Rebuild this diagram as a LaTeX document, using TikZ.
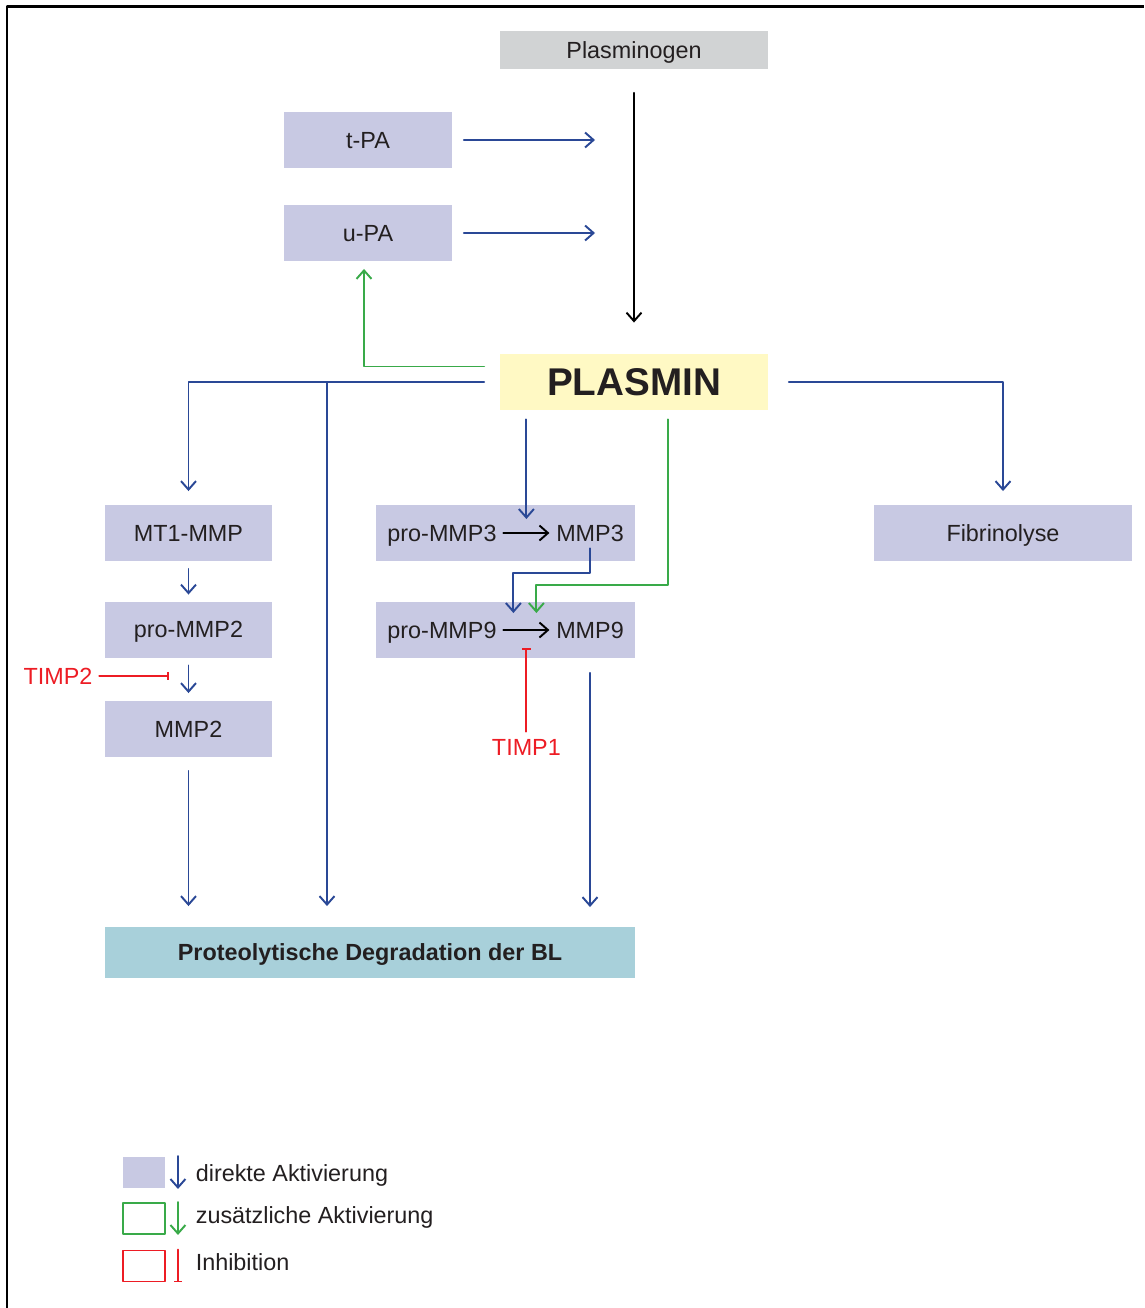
\documentclass[tikz,border=0pt]{standalone}
\usepackage{fontspec}
\setmainfont{Liberation Sans}
\usetikzlibrary{arrows.meta, positioning, calc}

\definecolor{actblue}{RGB}{42,72,150}
\definecolor{addgreen}{RGB}{57,170,73}
\definecolor{inhred}{RGB}{237,28,36}
\definecolor{boxlav}{RGB}{200,201,227}
\definecolor{plgray}{RGB}{209,211,212}
\definecolor{plyellow}{RGB}{255,249,196}
\definecolor{blblue}{RGB}{168,208,218}
\definecolor{txt}{RGB}{35,31,32}

\begin{document}
\begin{tikzpicture}[x=0.02cm, y=-0.02cm, >={Straight Barb[length=1.7mm,width=3mm]}, line cap=round, line join=round, line width=1.1pt, font=\fontsize{13.3}{16}\selectfont, text=txt]
	%======================
	% STYLES
	%======================
	\tikzset{
		every node/.style={text height=9.6pt, text depth=0pt},
		box/.style={fill=boxlav, minimum width=3.36cm, minimum height=1.12cm, inner sep=0pt},
		widebox/.style={fill=boxlav, minimum width=5.18cm, minimum height=1.12cm, inner sep=0pt},
		startbox/.style={fill=plgray, minimum width=5.36cm, minimum height=0.76cm, inner sep=0pt},
		plbox/.style={fill=plyellow, minimum width=5.36cm, minimum height=1.14cm, inner sep=0pt, text height=15.8pt, font=\fontsize{22}{26}\selectfont\bfseries},
		blbox/.style={fill=blblue, minimum width=10.6cm, minimum height=1.02cm, inner sep=0pt, font=\fontsize{13.3}{16}\selectfont\bfseries},
		legbox/.style={minimum width=0.84cm, minimum height=0.62cm, inner sep=0pt, line width=1.1pt},
		act/.style={->, actblue},
		add/.style={->, addgreen},
		inh/.style={-{Bar[width=1.7mm]}, inhred},
		inhtext/.style={text=inhred}
	}
	
	\useasboundingbox (0,0) rectangle (1144,1308);
	% frame (only top and left are visible)
	\draw[line width=0.06cm, line cap=butt] (7,1308) -- (7,7) -- (1144,7);
	
	% plasminogen system
	\node[startbox] (plg) at (634,50) {Plasminogen};
	\node[box] (tpa) at (368,140) {t-PA};
	\node[box] (upa) at (368,233) {u-PA};
	\node[plbox] (plasmin) at (634,382) {PLASMIN};
	
	% MMP2 column
	\node[box] (mt1) at (188.5,533) {MT1-MMP};
	\node[box] (promm2) at (188.5,629.5) {pro-MMP2};
	\node[box] (mmp2) at (188.5,729) {MMP2};
	\node[inhtext] (timp2) at (58,676) {TIMP2};
	
	% MMP3 / MMP9 column
	\node[widebox] (box3) at (505.5,533) {};
	\node (pro3) at (442,533) {pro-MMP3};
	\node (mmp3) at (590,533) {MMP3};
	\node[widebox] (box9) at (505.5,630) {};
	\node (pro9) at (442,630) {pro-MMP9};
	\node (mmp9) at (590,630) {MMP9};
	\coordinate (c3) at ($(pro3.east)!0.5!(mmp3.west)$);
	\coordinate (c9) at ($(pro9.east)!0.5!(mmp9.west)$);
	\node[inhtext] (timp1) at (c9 |- 0,747) {TIMP1};
	
	\node[widebox, minimum width=5.16cm] (fib) at (1003,533) {Fibrinolyse};
	\node[blbox] (bl) at (370,952.5) {Proteolytische Degradation der BL};
	
	% activation of plasminogen
	\draw[->, shorten <=0.46cm, shorten >=0.6cm] (plg) -- (plasmin);
	\draw[act, shorten <=0.22cm, shorten >=0.78cm] (tpa) -- (tpa -| plg);
	\draw[act, shorten <=0.22cm, shorten >=0.78cm] (upa) -- (upa -| plg);
	\draw[add, shorten >=0.14cm] ([xshift=-0.3cm,yshift=0.31cm]plasmin.west) -| ([xshift=-0.08cm]upa.south);
	
	% plasmin targets
	\draw[act, shorten >=0.26cm] ([xshift=-0.3cm]plasmin.west) -| (mt1.north);
	\coordinate (br) at (327,382);
	\draw[act, shorten >=0.4cm] (br) -- (br |- bl.north);
	\draw[act, shorten <=0.4cm, shorten >=0.26cm] (plasmin.east) -| (fib.north);
	\draw[act, shorten <=0.16cm, shorten >=0.28cm] (plasmin.south -| c3) -- (c3);
	\draw[add] ([xshift=0.68cm,yshift=-0.16cm]plasmin.south) -- ++(0,166) -| ([xshift=0.2cm,yshift=0.34cm]c9);
	
	% conversions
	\draw[->] (pro3) -- (mmp3);
	\draw[->] (pro9) -- (mmp9);
	\draw[act] (mmp3.south) -- ++(0,25) -| ([xshift=-0.26cm,yshift=0.34cm]c9);
	\draw[inh] (timp1) -- ([yshift=-0.36cm]c9);
	
	% MMP2 chain
	\draw[act, shorten <=0.14cm, shorten >=0.12cm] (mt1) -- (promm2);
	\draw[act, shorten <=0.14cm, shorten >=0.14cm] (promm2) -- (mmp2);
	\draw[inh, shorten >=0.4cm] (timp2) -- (timp2 -| promm2);
	
	% degradation of the BL
	\draw[act, shorten <=0.26cm, shorten >=0.4cm] (mmp2) -- (mmp2 |- bl.north);
	\draw[act, shorten <=0.28cm, shorten >=0.38cm] (box9.south -| mmp9) -- (mmp9 |- bl.north);
	
	% legend
	\node[legbox, fill=boxlav] (leg1) at (144,1172.5) {};
	\node[legbox, draw=addgreen] (leg2) at (144,1218.5) {};
	\node[legbox, draw=inhred] (leg3) at (144,1266) {};
	\node[anchor=west] (leg1txt) at (189,1173) {direkte Aktivierung};
	\node[anchor=west] (leg2txt) at (189,1215) {zusätzliche Aktivierung};
	\node[anchor=west] (leg3txt) at (189,1262) {Inhibition};
	\draw[act] ([xshift=0.24cm]leg1.north east) -- ([xshift=0.24cm]leg1.south east);
	\draw[add] ([xshift=0.24cm]leg2.north east) -- ([xshift=0.24cm]leg2.south east);
	\draw[inh] ([xshift=0.24cm]leg3.north east) -- ([xshift=0.24cm]leg3.south east);
\end{tikzpicture}
\end{document}
